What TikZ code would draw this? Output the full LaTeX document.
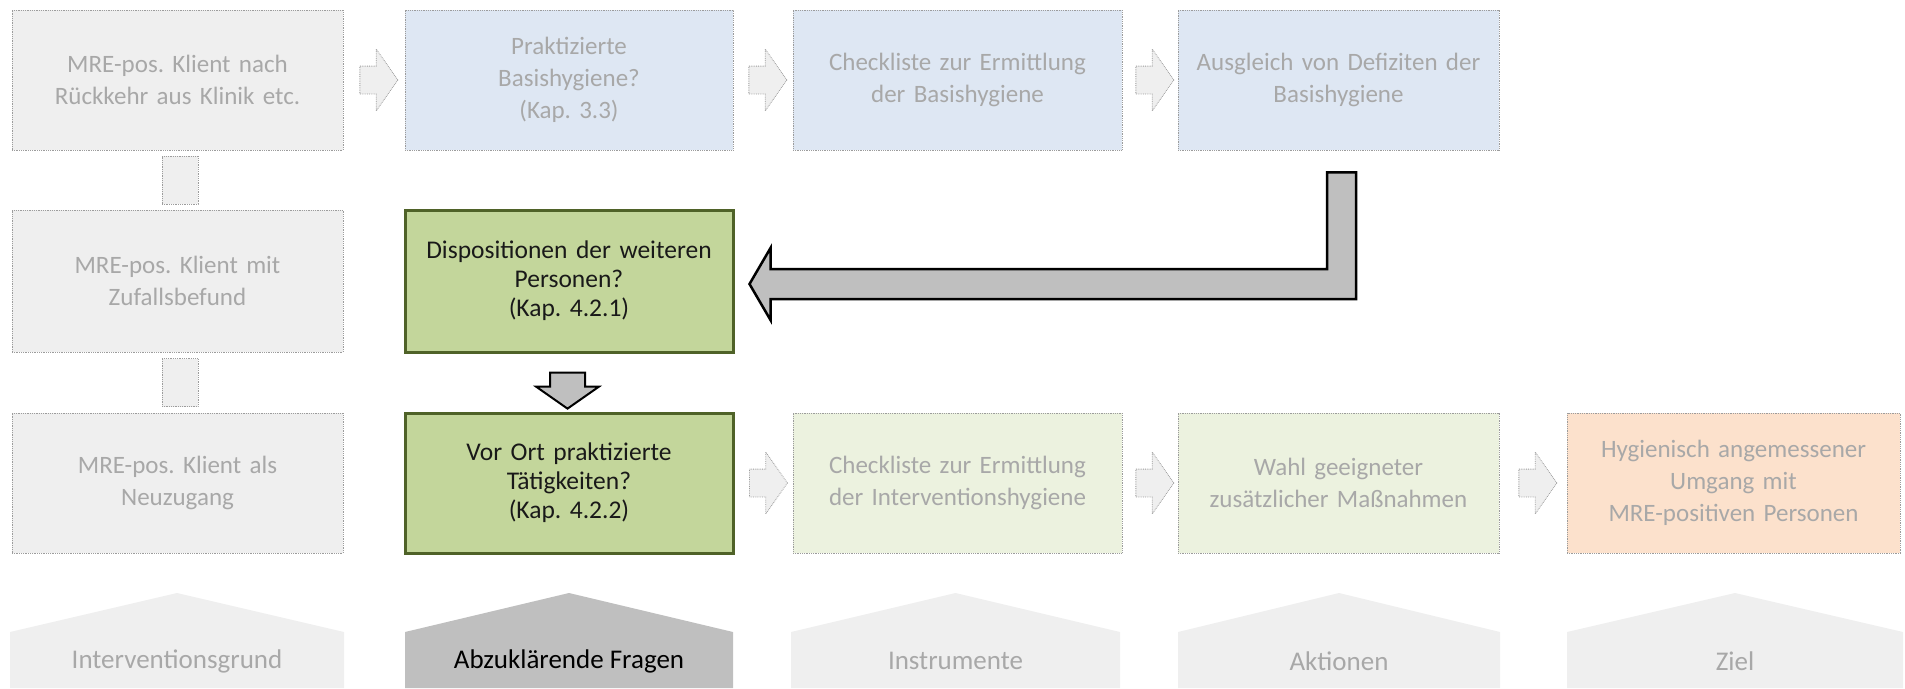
\documentclass[tikz,border=0pt]{standalone}
\usepackage{fontspec}
\setmainfont{Carlito}
\frenchspacing
\usetikzlibrary{calc,shapes.arrows}
\definecolor{fadetext}{HTML}{A8A8A8}
\definecolor{fadeline}{HTML}{9C9C9C}
\definecolor{fadegray}{HTML}{EFEFEF}
\definecolor{fadeblue}{HTML}{DEE7F3}
\definecolor{fadegreen}{HTML}{ECF2DF}
\definecolor{fadeorange}{HTML}{FCE1CC}
\definecolor{askgreen}{HTML}{C3D69B}
\definecolor{askborder}{HTML}{4F6228}
\definecolor{arrowgray}{HTML}{BFBFBF}
\tikzset{
    box/.style={rectangle, inner sep=0pt, minimum height=140pt, text width=310pt, align=center, font=\fontsize{25}{32}\selectfont}, % all boxes of the chart
    fadebox/.style={box, draw=fadeline, densely dotted, line width=0.8pt, text=fadetext},
    askbox/.style={box, draw=askborder, line width=3pt, fill=askgreen, text=black!90, minimum width=328pt, font=\fontsize{25.5}{29}\selectfont},
    fadestub/.style={rectangle, draw=fadeline, densely dotted, line width=0.8pt, fill=fadegray, minimum width=36pt, minimum height=48pt},
    fadearrow/.style={single arrow, draw=fadeline, densely dotted, line width=0.8pt, fill=fadegray,
        minimum height=38pt, inner xsep=0pt, inner ysep=13.5pt, single arrow head extend=17pt, single arrow tip angle=110},
    askarrow/.style={single arrow, draw=black, line width=2pt, fill=arrowgray, rotate=-90,
        minimum height=36pt, inner xsep=0pt, inner ysep=16.5pt, single arrow head extend=14pt, single arrow tip angle=110},
    bigarrow/.style={draw=black, line width=2.5pt, fill=arrowgray, line join=miter},
    fadehouse/.style={fill=fadegray},
    askhouse/.style={fill=arrowgray},
    houselabel/.style={font=\fontsize{27}{30}\selectfont, inner sep=0pt},
}

\begin{document}
\begin{tikzpicture}[x=1pt, y=-1pt]
  \useasboundingbox (0,0) rectangle (1905,688);

  % first row
  \node[fadebox, minimum width=331pt, fill=fadegray] (r1c1) at (177.5,80) {MRE-pos. Klient nach\\R\"uckkehr aus Klinik etc.};
  \node[fadebox, minimum width=328pt, fill=fadeblue] (r1c2) at (569,80)   {Praktizierte\\Basishygiene?\\(Kap. 3.3)};
  \node[fadebox, minimum width=329pt, fill=fadeblue] (r1c3) at (957.5,80) {Checkliste zur Ermittlung\\der Basishygiene};
  \node[fadebox, minimum width=321pt, fill=fadeblue] (r1c4) at (1338.5,80) {Ausgleich von Defiziten der\\Basishygiene};

  % second row
  \node[fadebox, minimum width=331pt, minimum height=142pt, fill=fadegray] (r2c1) at (177.5,281) {MRE-pos. Klient mit\\Zufallsbefund};
  \node[askbox, minimum height=142pt] (q1) at (569,281) {Dispositionen der weiteren\\Personen?\\(Kap. 4.2.1)};

  % third row
  \node[fadebox, minimum width=331pt, fill=fadegray] (r3c1) at (177.5,483) {MRE-pos. Klient als\\Neuzugang};
  \node[askbox] (q2) at (569,483) {Vor Ort praktizierte\\T\"atigkeiten?\\(Kap. 4.2.2)};
  \node[fadebox, minimum width=329pt, fill=fadegreen] (r3c3) at (957.5,483) {Checkliste zur Ermittlung\\der Interventionshygiene};
  \node[fadebox, minimum width=321pt, fill=fadegreen] (r3c4) at (1338.5,483) {Wahl geeigneter\\zus\"atzlicher Ma\ss nahmen};
  \node[fadebox, minimum width=333pt, fill=fadeorange] (r3c5) at (1733.5,483) {Hygienisch angemessener\\Umgang mit\\MRE-positiven Personen};

  % arrows between the boxes
  \node[fadearrow] (a12) at ($(r1c1.east)!0.5!(r1c2.west)$) {};
  \node[fadearrow] (a23) at ($(r1c2.east)!0.5!(r1c3.west)$) {};
  \node[fadearrow] (a34) at ($(r1c3.east)!0.5!(r1c4.west)$) {};
  \node[fadearrow] (b23) at ($(q2.east)!0.5!(r3c3.west)$) {};
  \node[fadearrow] (b34) at ($(r3c3.east)!0.5!(r3c4.west)$) {};
  \node[fadearrow] (b45) at ($(r3c4.east)!0.5!(r3c5.west)$) {};
  \node[fadestub] (s1) at ($(r1c1.south)!0.5!(r2c1.north)+(2.5,0)$) {};
  \node[fadestub] (s2) at ($(r2c1.south)!0.5!(r3c1.north)+(2.5,0)$) {};
  \node[askarrow] (down) at ($(q1.south)!0.5!(q2.north)+(-1.5,2)$) {};

  % bent arrow from the hygiene row back to the questions
  \coordinate (tip) at ($(q1.east)+(15,3)$);
  \coordinate (top) at ($(r1c4.south)+(3,22)$);
  \draw[bigarrow] (tip) -- ++(21,-36) -- ++(0,21) -| ([xshift=-14.5pt]top) -- ++(29,0)
    |- ([shift={(21,15)}]tip) -- ++(0,21) -- cycle;

  % bottom labels
  \fill[fadehouse] (10,688) -- (10,632) -- (177,593) -- (344,632) -- (344,688) -- cycle;
  \fill[askhouse]  (405,688) -- (405,632) -- (569,593) -- (733,632) -- (733,688) -- cycle;
  \fill[fadehouse] (791,688) -- (791,632) -- (955.5,593) -- (1120,632) -- (1120,688) -- cycle;
  \fill[fadehouse] (1178,688) -- (1178,632) -- (1339,593) -- (1500,632) -- (1500,688) -- cycle;
  \fill[fadehouse] (1567,688) -- (1567,632) -- (1735,593) -- (1903,632) -- (1903,688) -- cycle;
  \node[houselabel, text=fadetext] (h1) at (177,661)  {Interventionsgrund};
  \node[houselabel, text=black]    (h2) at (569,661)  {Abzukl\"arende Fragen};
  \node[houselabel, text=fadetext] (h3) at (955.5,661) {Instrumente};
  \node[houselabel, text=fadetext] (h4) at (1339,661) {Aktionen};
  \node[houselabel, text=fadetext] (h5) at (1735,661) {Ziel};
\end{tikzpicture}
\end{document}
